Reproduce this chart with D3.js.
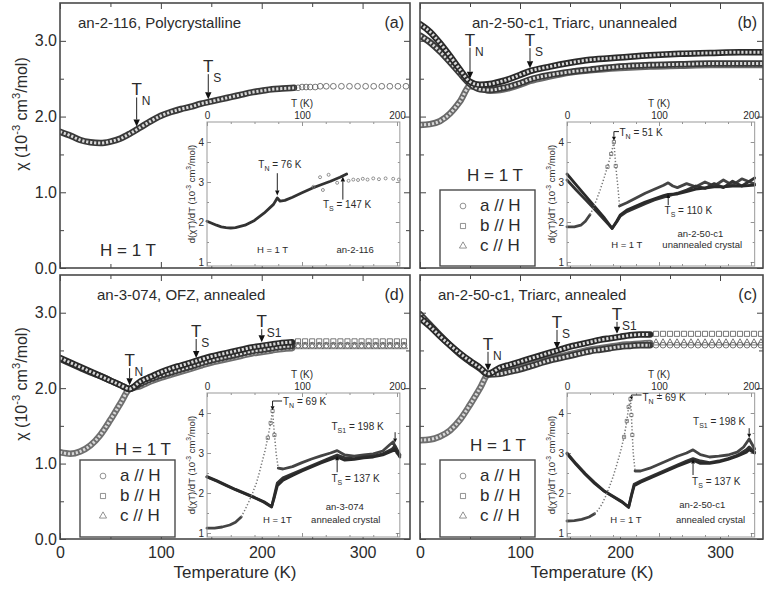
<!DOCTYPE html>
<html>
<head>
<meta charset="utf-8">
<script src="https://cdn.jsdelivr.net/npm/d3@7/dist/d3.min.js"></script>
<style>
  body { margin: 0; background: #fff; }
  text { fill: #2b2b2b; }
</style>
</head>
<body>
<div id="chart"></div>
<script>
// main panels: [T (K), chi (10^-3 cm^3/mol)]
var polyA = [[0,1.80],[10,1.75],[20,1.69],[30,1.66],[40,1.65],[50,1.67],[60,1.71],[70,1.78],[80,1.86],[90,1.94],[100,2.01],[110,2.06],[120,2.10],[130,2.13],[140,2.17],[150,2.20],[160,2.23],[170,2.26],[180,2.29],[190,2.32],[200,2.34],[210,2.36],[220,2.37],[232,2.38]];
var polyASparse = [[236,2.38],[240,2.39],[244,2.39],[248,2.39],[253,2.39],[258,2.40],[264,2.40],[271,2.40],[279,2.40],[287,2.40],[295,2.40],[303,2.40],[311,2.40],[319,2.40],[327,2.40],[335,2.40],[343,2.40]];

var unA = [[0,3.07],[10,2.98],[20,2.86],[30,2.72],[40,2.57],[50,2.43],[60,2.36],[70,2.35],[80,2.37],[90,2.40],[100,2.44],[110,2.49],[130,2.55],[150,2.59],[170,2.62],[200,2.66],[230,2.68],[260,2.69],[290,2.70],[320,2.70],[343,2.70]];
var unB = [[0,3.22],[10,3.12],[20,2.97],[30,2.80],[40,2.62],[50,2.46],[60,2.42],[70,2.43],[80,2.46],[90,2.50],[100,2.55],[110,2.60],[130,2.66],[150,2.71],[170,2.75],[200,2.78],[230,2.81],[260,2.83],[290,2.84],[320,2.85],[343,2.85]];
var unC = [[0,1.89],[10,1.90],[20,1.94],[30,2.04],[40,2.20],[50,2.40],[60,2.38],[70,2.34],[80,2.35],[90,2.38],[100,2.42],[110,2.47],[130,2.53],[150,2.58],[170,2.61],[200,2.64],[230,2.66],[260,2.67],[290,2.68],[320,2.68],[343,2.68]];

var ofzA = [[0,2.39],[10,2.33],[20,2.27],[30,2.21],[40,2.16],[50,2.10],[60,2.04],[69,1.99],[80,2.06],[90,2.12],[100,2.17],[110,2.21],[120,2.25],[130,2.29],[140,2.33],[150,2.37],[160,2.40],[170,2.43],[180,2.46],[190,2.49],[200,2.51],[210,2.53],[220,2.55],[230,2.56]];
var ofzB = [[0,2.40],[10,2.34],[20,2.28],[30,2.22],[40,2.16],[50,2.10],[60,2.04],[69,1.99],[80,2.09],[90,2.15],[100,2.21],[110,2.26],[120,2.30],[130,2.34],[140,2.38],[150,2.42],[160,2.45],[170,2.48],[180,2.51],[190,2.54],[200,2.56],[210,2.58],[220,2.60],[230,2.61]];
var ofzC = [[0,1.15],[10,1.13],[20,1.16],[30,1.24],[40,1.38],[50,1.58],[60,1.80],[69,1.99],[80,2.03],[90,2.09],[100,2.14],[110,2.18],[120,2.22],[130,2.26],[140,2.30],[150,2.34],[160,2.37],[170,2.40],[180,2.43],[190,2.46],[200,2.48],[210,2.50],[220,2.52],[230,2.53]];

var triA = [[0,2.98],[10,2.84],[20,2.70],[30,2.57],[40,2.45],[50,2.35],[60,2.26],[68,2.18],[80,2.19],[90,2.22],[100,2.25],[110,2.29],[120,2.33],[130,2.37],[140,2.40],[150,2.43],[160,2.46],[170,2.49],[180,2.51],[190,2.53],[200,2.55],[210,2.56],[220,2.57],[230,2.57]];
var triB = [[0,2.93],[10,2.82],[20,2.69],[30,2.57],[40,2.46],[50,2.36],[60,2.27],[68,2.19],[80,2.27],[90,2.31],[100,2.35],[110,2.39],[120,2.43],[130,2.47],[140,2.51],[150,2.55],[160,2.58],[170,2.61],[180,2.64],[190,2.66],[200,2.68],[210,2.70],[220,2.71],[230,2.71]];
var triC = [[0,1.31],[10,1.32],[20,1.36],[30,1.44],[40,1.58],[50,1.78],[60,2.00],[68,2.18],[80,2.21],[90,2.24],[100,2.27],[110,2.31],[120,2.35],[130,2.39],[140,2.42],[150,2.45],[160,2.48],[170,2.51],[180,2.53],[190,2.55],[200,2.57],[210,2.58],[220,2.59],[230,2.60]];

// sparse high-T markers (d) and (c)
var sparseT = [236,243,250,257,264,271,278,285,292,299,306,313,320,327,334,341];
var ofzSparseA = [2.57,2.57,2.57,2.57,2.57,2.57,2.57,2.57,2.57,2.57,2.57,2.57,2.57,2.57,2.57,2.57];
var ofzSparseB = [2.62,2.62,2.62,2.62,2.62,2.62,2.62,2.62,2.62,2.62,2.62,2.62,2.62,2.62,2.62,2.62];
var ofzSparseC = [2.55,2.55,2.55,2.55,2.55,2.55,2.55,2.55,2.55,2.55,2.55,2.55,2.55,2.55,2.55,2.55];
var triSparseA = [2.57,2.57,2.57,2.57,2.57,2.57,2.57,2.57,2.57,2.57,2.57,2.57,2.57,2.57,2.57,2.57];
var triSparseB = [2.72,2.72,2.72,2.72,2.72,2.72,2.72,2.72,2.72,2.72,2.72,2.72,2.72,2.72,2.72,2.72];
var triSparseC = [2.60,2.60,2.60,2.60,2.60,2.60,2.60,2.60,2.60,2.60,2.60,2.60,2.60,2.60,2.60,2.60];

// transitions marked in main panels: [subscript, T, chi, label gap]
var polyMarks = [["N",76,1.83,31],["S",147,2.19,27]];
var unMarks = [["N",50,2.46,33],["S",110,2.60,22]];
var ofzMarks = [["N",69,2.00,19],["S",135,2.36,21],["S1",200,2.57,15]];
var triMarks = [["N",68,2.19,21],["S",137,2.48,21],["S1",197,2.68,14]];

// insets: [T (K), d(chi T)/dT]
var insPoly = [[0,2.02],[5,1.97],[10,1.92],[15,1.88],[20,1.86],[25,1.85],[30,1.86],[40,1.92],[50,2.04],[60,2.22],[70,2.44],[74,2.60],[77,2.52],[82,2.54],[90,2.62],[100,2.73],[110,2.84],[120,2.93],[130,3.02],[140,3.12],[147,3.20]];
var insPolyHigh = [[149,3.03],[154,3.06],[159,3.05],[164,3.08],[169,3.06],[175,3.09],[181,3.07],[188,3.09],[196,3.08],[202,3.06],[112,2.88],[119,3.12],[122,2.80],[128,3.18],[137,2.98]];

var insUnA = [[0,3.05],[10,2.80],[20,2.56],[30,2.32],[40,2.07],[49,1.84],[54,2.00],[58,2.15],[65,2.26],[75,2.36],[85,2.46],[95,2.55],[105,2.62],[110,2.65],[120,2.72],[130,2.80],[140,2.90],[150,2.84],[160,2.96],[170,2.86],[180,3.02],[190,2.90],[204,3.10]];
var insUnB = [[0,3.20],[10,2.93],[20,2.66],[30,2.39],[40,2.12],[49,1.84],[54,2.02],[58,2.18],[65,2.30],[75,2.40],[85,2.50],[95,2.58],[105,2.66],[110,2.69],[120,2.70],[130,2.76],[140,2.82],[150,2.85],[160,2.88],[170,2.88],[180,2.90],[190,2.90],[204,2.92]];
var insUnCLow = [[0,1.88],[8,1.88],[15,1.92],[20,2.02],[25,2.18]];
var insUnCRise = [[25,2.18],[28,2.32],[32,2.55],[36,2.80],[40,3.08],[44,3.38],[48,3.70],[51,4.00],[53,3.40],[55,2.95],[57,2.45]];
var insUnCHigh = [[57,2.40],[65,2.48],[75,2.60],[85,2.72],[95,2.82],[105,2.92],[110,2.98],[115,2.90],[120,2.86],[130,2.96],[140,2.88],[150,3.00],[160,2.90],[170,3.05],[180,2.92],[190,3.08],[204,2.95]];

var insOfzA = [[0,2.40],[10,2.30],[20,2.19],[30,2.08],[40,1.98],[50,1.88],[60,1.77],[68,1.65],[71,1.95],[74,2.25],[80,2.38],[90,2.48],[100,2.58],[110,2.68],[120,2.78],[130,2.88],[137,2.95],[145,2.88],[155,2.86],[165,2.90],[175,2.92],[185,2.98],[195,3.10],[198,3.18],[203,2.95]];
var insOfzB = [[0,2.41],[10,2.31],[20,2.20],[30,2.09],[40,1.99],[50,1.89],[60,1.78],[68,1.66],[71,1.90],[74,2.18],[80,2.32],[90,2.44],[100,2.55],[110,2.65],[120,2.75],[130,2.84],[137,2.90],[145,2.82],[155,2.84],[165,2.88],[175,2.90],[185,2.95],[195,3.05],[198,3.10],[203,2.90]];
var insOfzCLow = [[0,1.12],[8,1.12],[16,1.15],[24,1.20],[30,1.27],[36,1.40]];
var insOfzCRise = [[36,1.40],[40,1.58],[44,1.78],[48,2.00],[52,2.25],[55,2.50],[58,2.78],[61,3.05],[64,3.38],[67,3.75],[69,4.05],[71,3.45],[73,2.95],[75,2.62]];
var insOfzCHigh = [[75,2.62],[80,2.60],[90,2.66],[100,2.76],[110,2.85],[120,2.93],[130,3.00],[137,3.06],[145,2.95],[155,2.92],[165,2.95],[175,2.98],[185,3.05],[192,3.20],[196,3.28],[200,3.00],[203,2.95]];

var insTriA = [[0,3.00],[10,2.73],[20,2.48],[30,2.26],[40,2.06],[50,1.92],[60,1.78],[67,1.65],[70,1.95],[73,2.22],[80,2.30],[90,2.40],[100,2.50],[110,2.60],[120,2.70],[130,2.80],[137,2.86],[145,2.80],[155,2.76],[165,2.80],[175,2.86],[185,2.94],[195,3.08],[198,3.15],[204,3.02]];
var insTriB = [[0,2.98],[10,2.71],[20,2.46],[30,2.24],[40,2.05],[50,1.91],[60,1.77],[67,1.64],[70,1.92],[73,2.18],[80,2.27],[90,2.37],[100,2.47],[110,2.57],[120,2.67],[130,2.76],[137,2.82],[145,2.74],[155,2.74],[165,2.78],[175,2.84],[185,2.92],[195,3.02],[198,3.08],[204,3.00]];
var insTriCLow = [[0,1.30],[8,1.31],[16,1.34],[24,1.40],[30,1.48]];
var insTriCRise = [[30,1.48],[34,1.58],[38,1.72],[42,1.92],[46,2.15],[50,2.40],[54,2.70],[58,3.02],[62,3.40],[65,3.80],[67,4.15],[69,4.35],[70,3.95],[71,3.45],[72,3.00],[74,2.55]];
var insTriCHigh = [[74,2.55],[80,2.55],[90,2.62],[100,2.72],[110,2.82],[120,2.92],[130,3.00],[137,3.08],[145,2.96],[155,2.90],[165,2.92],[175,2.95],[185,3.02],[192,3.15],[198,3.35],[204,3.10]];

var legendNames = ["a // H","b // H","c // H"];
var xTicks = [0,100,200,300];
var yTicks = [0,1,2,3];

var FONT = '"Liberation Sans", Arial, Helvetica, sans-serif';
var W = 765, H = 589;

var svg = d3.select("#chart").append("svg")
  .attr("width", W).attr("height", H)
  .style("font-family", FONT);
var defs = svg.append("defs");

var symCircle = d3.symbol().type(d3.symbolCircle).size(26);
var symSquare = d3.symbol().type(d3.symbolSquare).size(26);
var symTri = d3.symbol().type(d3.symbolTriangle).size(22);

function richText(sel, parts, size) {
  // parts: [text, "sup"|"sub"|null]
  var off = 0;
  parts.forEach(function(p){
    var ts = sel.append("tspan").text(p[0]);
    var want = p[1] === "sup" ? -size*0.42 : (p[1] === "sub" ? size*0.3 : 0);
    if (want !== off) ts.attr("dy", want - off);
    if (p[1]) ts.attr("font-size", size*0.7);
    off = want;
  });
}

function arrow(g, x, yFrom, yTo, hw, hl) {
  var dir = yTo > yFrom ? 1 : -1;
  g.append("line").attr("x1", x).attr("x2", x).attr("y1", yFrom).attr("y2", yTo - dir*hl)
    .attr("stroke", "#222").attr("stroke-width", 1);
  g.append("path").attr("d", "M"+(x-hw)+","+(yTo-dir*hl)+"L"+(x+hw)+","+(yTo-dir*hl)+"L"+x+","+yTo+"Z")
    .attr("fill", "#111");
}

function band(g, pts, x, y, color, w, curve) {
  var line = d3.line().x(function(d){return x(d[0]);}).y(function(d){return y(d[1]);}).curve(curve || d3.curveMonotoneX);
  g.append("path").attr("d", line(pts)).attr("fill", "none")
    .attr("stroke", color).attr("stroke-width", w)
    .attr("stroke-linejoin", "round").attr("stroke-linecap", "round");
  if (w > 4) {
    g.append("path").attr("d", line(pts)).attr("fill", "none")
      .attr("stroke", "#d8d8d8").attr("stroke-width", w - 3.5)
      .attr("stroke-dasharray", "2.2,1.8");
  }
}

function markers(g, pts, x, y, sym, color) {
  g.selectAll(null).data(pts).enter().append("path")
    .attr("d", sym)
    .attr("transform", function(d){ return "translate("+x(d[0])+","+y(d[1])+")"; })
    .attr("fill", "none").attr("stroke", color || "#555").attr("stroke-width", 0.8);
}

function zipT(ts, vs) { return ts.map(function(t, i){ return [t, vs[i]]; }); }

var panels = [
  {id:"a", x0:60, x1:410, y0:3, y1:268, tMax:347, yLab:true, xLab:false, title:"an-2-116, Polycrystalline", titleX:78, letter:"(a)", hX:128, hY:256,
   dense:[[polyA,"#3a3a3a"]], sparse:[[polyASparse, symCircle]], marks:polyMarks},
  {id:"b", x0:420, x1:763, y0:3, y1:268, tMax:343, yLab:false, xLab:false, title:"an-2-50-c1, Triarc, unannealed", titleX:472, letter:"(b)", hX:495, hY:181,
   legend:{x:440, y:190, w:95, h:76},
   dense:[[unC,"#6a6a6a"],[unA,"#3a3a3a"],[unB,"#2a2a2a"]], sparse:[], marks:unMarks},
  {id:"d", x0:60, x1:410, y0:275, y1:539, tMax:347, yLab:true, xLab:true, title:"an-3-074, OFZ, annealed", titleX:97, letter:"(d)", hX:143, hY:455,
   legend:{x:80, y:460, w:95, h:77},
   dense:[[ofzC,"#6f6f6f"],[ofzA,"#3a3a3a"],[ofzB,"#2a2a2a"]],
   sparse:[[zipT(sparseT, ofzSparseC), symTri],[zipT(sparseT, ofzSparseA), symCircle],[zipT(sparseT, ofzSparseB), symSquare]], marks:ofzMarks},
  {id:"c", x0:420, x1:763, y0:275, y1:539, tMax:343, yLab:false, xLab:true, title:"an-2-50-c1, Triarc, annealed", titleX:438, letter:"(c)", hX:498, hY:451,
   legend:{x:440, y:460, w:95, h:77},
   dense:[[triC,"#6f6f6f"],[triA,"#3a3a3a"],[triB,"#2a2a2a"]],
   sparse:[[zipT(sparseT, triSparseC), symTri],[zipT(sparseT, triSparseA), symCircle],[zipT(sparseT, triSparseB), symSquare]], marks:triMarks}
];

var insets = [
  {panel:"a", left:207, k:0.95, tMax:203, yOne:262,
   bands:[[insPoly,"#333"]], rise:[], extra:[[insPolyHigh, symCircle]],
   notes:function(g, x, y){
     var t1 = g.append("text").attr("x", x(54)).attr("y", y(3.35)).attr("font-size", 10);
     richText(t1, [["T",null],["N","sub"],[" = 76 K",null]], 10);
     arrow(g, x(74), y(3.22), y(2.66), 2.2, 5);
     var t2 = g.append("text").attr("x", x(122)).attr("y", y(2.35)).attr("font-size", 10);
     richText(t2, [["T",null],["S","sub"],[" = 147 K",null]], 10);
     arrow(g, x(143), y(2.56), y(3.14), 2.2, 5);
     g.append("text").attr("x", x(69)).attr("y", y(1.22)).attr("text-anchor","middle").attr("font-size", 9.5).text("H = 1 T");
     g.append("text").attr("x", x(156)).attr("y", y(1.22)).attr("text-anchor","middle").attr("font-size", 9.5).text("an-2-116");
   }},
  {panel:"b", left:567, k:0.92, tMax:204, yOne:262,
   bands:[[insUnCLow,"#444"],[insUnCHigh,"#444"],[insUnA,"#333"],[insUnB,"#2a2a2a"]], rise:[insUnCRise], extra:[],
   notes:function(g, x, y){
     var t1 = g.append("text").attr("x", x(57)).attr("y", y(4.16)).attr("font-size", 10);
     richText(t1, [["T",null],["N","sub"],[" = 51 K",null]], 10);
     g.append("line").attr("x1", x(56.5)).attr("x2", x(51)).attr("y1", y(4.26)).attr("y2", y(4.26)).attr("stroke","#222");
     arrow(g, x(51), y(4.26), y(4.03), 2, 4);
     var t2 = g.append("text").attr("x", x(106)).attr("y", y(2.2)).attr("font-size", 10);
     richText(t2, [["T",null],["S","sub"],[" = 110 K",null]], 10);
     arrow(g, x(110), y(2.42), y(2.70), 2, 4);
     g.append("text").attr("x", x(145)).attr("y", y(1.62)).attr("text-anchor","middle").attr("font-size", 9.5).text("an-2-50-c1");
     g.append("text").attr("x", x(147)).attr("y", y(1.34)).attr("text-anchor","middle").attr("font-size", 9.5).text("unannealed crystal");
     g.append("text").attr("x", x(65)).attr("y", y(1.34)).attr("text-anchor","middle").attr("font-size", 9.5).text("H = 1 T");
   }},
  {panel:"d", left:207, k:0.95, tMax:203, yOne:533,
   bands:[[insOfzCLow,"#444"],[insOfzCHigh,"#444"],[insOfzA,"#333"],[insOfzB,"#2a2a2a"]], rise:[insOfzCRise], extra:[],
   notes:function(g, x, y){
     var t1 = g.append("text").attr("x", x(80)).attr("y", y(4.2)).attr("font-size", 10);
     richText(t1, [["T",null],["N","sub"],[" = 69 K",null]], 10);
     g.append("line").attr("x1", x(79)).attr("x2", x(69)).attr("y1", y(4.3)).attr("y2", y(4.3)).attr("stroke","#222");
     arrow(g, x(69), y(4.3), y(4.07), 2, 4);
     var t2 = g.append("text").attr("x", x(131)).attr("y", y(3.58)).attr("font-size", 10);
     richText(t2, [["T",null],["S1","sub"],[" = 198 K",null]], 10);
     arrow(g, x(198), y(3.52), y(3.26), 2, 4);
     var t3 = g.append("text").attr("x", x(131)).attr("y", y(2.28)).attr("font-size", 10);
     richText(t3, [["T",null],["S","sub"],[" = 137 K",null]], 10);
     arrow(g, x(137), y(2.52), y(2.92), 2, 4);
     g.append("text").attr("x", x(145)).attr("y", y(1.58)).attr("text-anchor","middle").attr("font-size", 9.5).text("an-3-074");
     g.append("text").attr("x", x(146)).attr("y", y(1.26)).attr("text-anchor","middle").attr("font-size", 9.5).text("annealed crystal");
     g.append("text").attr("x", x(74)).attr("y", y(1.26)).attr("text-anchor","middle").attr("font-size", 9.5).text("H = 1T");
   }},
  {panel:"c", left:567, k:0.92, tMax:204, yOne:533,
   bands:[[insTriCLow,"#444"],[insTriCHigh,"#444"],[insTriA,"#333"],[insTriB,"#2a2a2a"]], rise:[insTriCRise], extra:[],
   notes:function(g, x, y){
     var t1 = g.append("text").attr("x", x(82)).attr("y", y(4.3)).attr("font-size", 10);
     richText(t1, [["T",null],["N","sub"],[" = 69 K",null]], 10);
     g.append("line").attr("x1", x(81)).attr("x2", x(70)).attr("y1", y(4.45)).attr("y2", y(4.45)).attr("stroke","#222");
     arrow(g, x(70), y(4.45), y(4.34), 1.8, 3);
     var t2 = g.append("text").attr("x", x(137)).attr("y", y(3.7)).attr("font-size", 10);
     richText(t2, [["T",null],["S1","sub"],[" = 198 K",null]], 10);
     arrow(g, x(198), y(3.62), y(3.38), 2, 4);
     var t3 = g.append("text").attr("x", x(136)).attr("y", y(2.2)).attr("font-size", 10);
     richText(t3, [["T",null],["S","sub"],[" = 137 K",null]], 10);
     arrow(g, x(137), y(2.45), y(2.84), 2, 4);
     g.append("text").attr("x", x(147)).attr("y", y(1.62)).attr("text-anchor","middle").attr("font-size", 9.5).text("an-2-50-c1");
     g.append("text").attr("x", x(156)).attr("y", y(1.26)).attr("text-anchor","middle").attr("font-size", 9.5).text("annealed crystal");
     g.append("text").attr("x", x(64)).attr("y", y(1.26)).attr("text-anchor","middle").attr("font-size", 9.5).text("H = 1 T");
   }}
];

function styleAxis(ax, color) {
  ax.select(".domain").remove();
  ax.selectAll(".tick line").attr("stroke", color).attr("stroke-width", 1);
}

panels.forEach(function(p){
  var g = svg.append("g").attr("class", "panel-" + p.id);
  var x = d3.scaleLinear().domain([0, p.tMax]).range([p.x0, p.x1]);
  var y = d3.scaleLinear().domain([0, 3.5]).range([p.y1, p.y0]);

  defs.append("clipPath").attr("id", "clip-" + p.id)
    .append("rect").attr("x", p.x0).attr("y", p.y0).attr("width", p.x1 - p.x0).attr("height", p.y1 - p.y0);

  // ticks (inward)
  var axB = g.append("g").attr("transform", "translate(0," + p.y1 + ")")
    .call(d3.axisBottom(x).tickValues(xTicks).tickSizeInner(-6).tickSizeOuter(0).tickPadding(8)
      .tickFormat(p.xLab ? d3.format("d") : function(){ return ""; }));
  axB.selectAll("text").attr("font-size", 16).attr("font-family", FONT).attr("fill", "#2b2b2b");
  styleAxis(axB, "#444");
  styleAxis(g.append("g").attr("transform", "translate(0," + p.y1 + ")")
    .call(d3.axisBottom(x).tickValues([50,150,250]).tickSizeInner(-4).tickSizeOuter(0).tickFormat("")), "#444");
  styleAxis(g.append("g").attr("transform", "translate(0," + p.y0 + ")")
    .call(d3.axisTop(x).tickValues(xTicks).tickSizeInner(-6).tickSizeOuter(0).tickFormat("")), "#444");
  styleAxis(g.append("g").attr("transform", "translate(0," + p.y0 + ")")
    .call(d3.axisTop(x).tickValues([50,150,250]).tickSizeInner(-4).tickSizeOuter(0).tickFormat("")), "#444");

  var axL = g.append("g").attr("transform", "translate(" + p.x0 + ",0)")
    .call(d3.axisLeft(y).tickValues(yTicks).tickSizeInner(-6).tickSizeOuter(0).tickPadding(3)
      .tickFormat(p.yLab ? d3.format(".1f") : function(){ return ""; }));
  axL.selectAll("text").attr("font-size", 16).attr("font-family", FONT).attr("fill", "#2b2b2b");
  styleAxis(axL, "#444");
  styleAxis(g.append("g").attr("transform", "translate(" + p.x0 + ",0)")
    .call(d3.axisLeft(y).tickValues([0.5,1.5,2.5]).tickSizeInner(-4).tickSizeOuter(0).tickFormat("")), "#444");
  styleAxis(g.append("g").attr("transform", "translate(" + p.x1 + ",0)")
    .call(d3.axisRight(y).tickValues(yTicks).tickSizeInner(-6).tickSizeOuter(0).tickFormat("")), "#444");
  styleAxis(g.append("g").attr("transform", "translate(" + p.x1 + ",0)")
    .call(d3.axisRight(y).tickValues([0.5,1.5,2.5]).tickSizeInner(-4).tickSizeOuter(0).tickFormat("")), "#444");

  // data
  var dg = g.append("g").attr("clip-path", "url(#clip-" + p.id + ")");
  p.dense.forEach(function(s){ band(dg, s[0], x, y, s[1], 6.5); });
  p.sparse.forEach(function(s){ markers(dg, s[0], x, y, s[1], "#555"); });

  // frame
  g.append("rect").attr("x", p.x0).attr("y", p.y0).attr("width", p.x1 - p.x0).attr("height", p.y1 - p.y0)
    .attr("fill", "none").attr("stroke", "#4a4a4a").attr("stroke-width", 1.6);

  // title, letter, field
  g.append("text").attr("x", p.titleX).attr("y", p.y0 + 25).attr("font-size", 15).text(p.title);
  g.append("text").attr("x", p.x1 - 6).attr("y", p.y0 + 25).attr("font-size", 16).attr("text-anchor", "end").text(p.letter);
  g.append("text").attr("x", p.hX).attr("y", p.hY).attr("font-size", 17).attr("text-anchor", "middle").text("H = 1 T");

  // transition arrows
  p.marks.forEach(function(m){
    var xm = x(m[1]), tip = y(m[2]) - 3, base = tip - m[3];
    arrow(g, xm, base + 2, tip, 3.2, 7);
    g.append("text").attr("x", xm).attr("y", base).attr("font-size", 17).attr("text-anchor", "middle").text("T");
    g.append("text").attr("x", xm + 5).attr("y", base + 10).attr("font-size", 12).text(m[0]);
  });

  // legend
  if (p.legend) {
    var L = p.legend;
    g.append("rect").attr("x", L.x).attr("y", L.y).attr("width", L.w).attr("height", L.h)
      .attr("fill", "#fff").attr("stroke", "#4a4a4a").attr("stroke-width", 1.4);
    var syms = [symCircle, symSquare, symTri];
    legendNames.forEach(function(name, i){
      var by = L.y + 21 + i * 20;
      g.append("path").attr("d", syms[i]).attr("transform", "translate(" + (L.x + 23) + "," + (by - 5) + ")")
        .attr("fill", "none").attr("stroke", "#777").attr("stroke-width", 0.8);
      g.append("text").attr("x", L.x + 40).attr("y", by).attr("font-size", 17).text(name);
    });
  }
});

// axis titles
[114, 384].forEach(function(cy){
  var t = svg.append("text").attr("transform", "translate(27," + cy + ") rotate(-90)")
    .attr("text-anchor", "middle").attr("font-size", 16);
  richText(t, [["\u03C7 (10",null],["-3","sup"],[" cm",null],["3","sup"],["/mol)",null]], 16);
});
[235, 592].forEach(function(cx){
  svg.append("text").attr("x", cx).attr("y", 578).attr("text-anchor", "middle").attr("font-size", 17).text("Temperature (K)");
});

// insets
insets.forEach(function(ins){
  var g = svg.append("g").attr("class", "inset-" + ins.panel);
  var x = d3.scaleLinear().domain([0, ins.tMax]).range([ins.left, ins.left + ins.tMax * ins.k]);
  var y = d3.scaleLinear().domain([0.9, 4.5]).range([ins.yOne + 4, ins.yOne - 140]);
  var x0 = x(0), x1 = x(ins.tMax), y0 = y(4.5), y1 = y(0.9);

  g.append("rect").attr("x", x0).attr("y", y0).attr("width", x1 - x0).attr("height", y1 - y0)
    .attr("fill", "#fff");

  function tickAxis(axis, tr, vals, len, fmt) {
    var a = g.append("g").attr("transform", tr)
      .call(axis.tickValues(vals).tickSizeInner(-len).tickSizeOuter(0).tickPadding(3).tickFormat(fmt || ""));
    a.select(".domain").remove();
    a.selectAll(".tick line").attr("stroke", "#777").attr("stroke-width", 0.8);
    a.selectAll("text").attr("font-size", 10).attr("font-family", FONT).attr("fill", "#2b2b2b");
    return a;
  }
  tickAxis(d3.axisTop(x), "translate(0," + y0 + ")", [0,100,200], 4, d3.format("d"));
  tickAxis(d3.axisTop(x), "translate(0," + y0 + ")", [25,50,75,125,150,175], 2);
  tickAxis(d3.axisBottom(x), "translate(0," + y1 + ")", [0,100,200], 4);
  tickAxis(d3.axisBottom(x), "translate(0," + y1 + ")", [25,50,75,125,150,175], 2);
  tickAxis(d3.axisLeft(y), "translate(" + x0 + ",0)", [1,2,3,4], 4, d3.format("d"));
  tickAxis(d3.axisLeft(y), "translate(" + x0 + ",0)", [1.5,2.5,3.5], 2);
  tickAxis(d3.axisRight(y), "translate(" + x1 + ",0)", [1,2,3,4], 4);
  tickAxis(d3.axisRight(y), "translate(" + x1 + ",0)", [1.5,2.5,3.5], 2);

  var dg = g.append("g");
  ins.bands.forEach(function(s){ band(dg, s[0], x, y, s[1], 2.8, d3.curveLinear); });
  ins.rise.forEach(function(r){
    var line = d3.line().x(function(d){return x(d[0]);}).y(function(d){return y(d[1]);});
    dg.append("path").attr("d", line(r)).attr("fill", "none").attr("stroke", "#777")
      .attr("stroke-width", 1.5).attr("stroke-dasharray", "1.3,2");
    markers(dg, r.filter(function(d){ return d[1] > 3.2; }), x, y, d3.symbol().type(d3.symbolSquare).size(10), "#666");
  });
  ins.extra.forEach(function(s){
    markers(dg, s[0], x, y, d3.symbol().type(d3.symbolCircle).size(7), "#777");
  });

  g.append("rect").attr("x", x0).attr("y", y0).attr("width", x1 - x0).attr("height", y1 - y0)
    .attr("fill", "none").attr("stroke", "#999").attr("stroke-width", 1);

  g.append("text").attr("x", x(100)).attr("y", y0 - 15).attr("text-anchor", "middle").attr("font-size", 10).text("T (K)");
  var yl = g.append("text").attr("transform", "translate(" + (x0 - 12) + "," + ((y0 + y1) / 2) + ") rotate(-90)")
    .attr("text-anchor", "middle").attr("font-size", 9.5);
  richText(yl, [["d(\u03C7T)/dT  (10",null],["-3","sup"],[" cm",null],["3","sup"],["/mol)",null]], 9.5);

  ins.notes(g, x, y);
});
</script>
</body>
</html>
